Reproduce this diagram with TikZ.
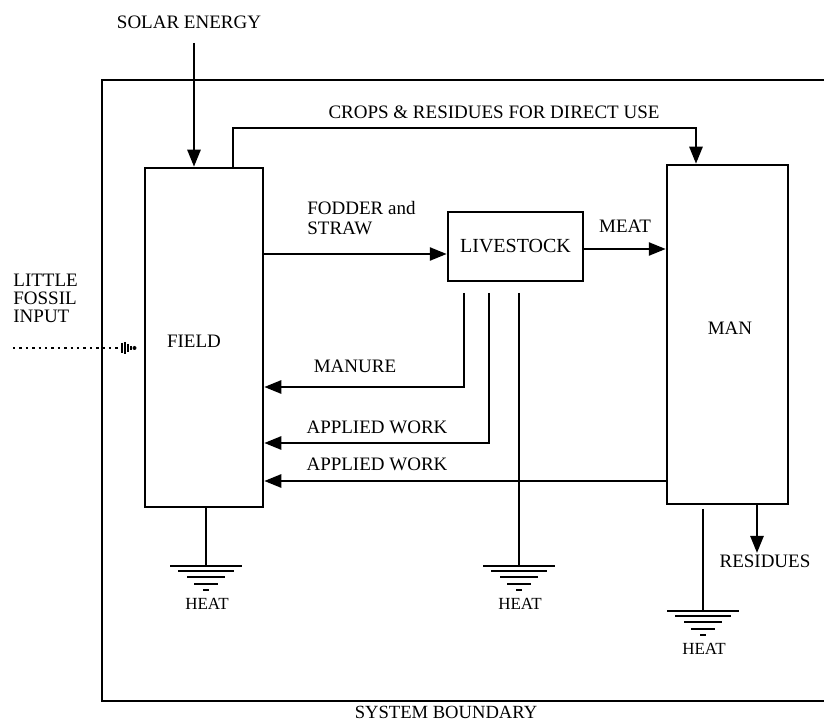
\documentclass[tikz,border=0pt]{standalone}
\usepackage{fontspec}
\setmainfont{Liberation Serif}
\usetikzlibrary{arrows.meta}

\tikzset{
  box/.style = {draw, line width=1.25pt, inner sep=0pt},
  lab/.style = {font=\fontsize{9.5}{10}\selectfont, inner sep=0pt},
  small/.style = {font=\fontsize{8.5}{10}\selectfont, inner sep=0pt},
  arr/.style = {line width=1.25pt, -{Triangle[length=8.5pt,width=6.5pt]}},
  ln/.style = {line width=1.25pt},
  ground/.pic = {
    \draw[ln] (-36,0) -- (36,0);
    \draw[ln] (-28,5) -- (28,5);
    \draw[ln] (-19,11) -- (19,11);
    \draw[ln] (-12,18) -- (12,18);
    \draw[ln] (-3,24) -- (3,24);
    \node[small] (-heat) at (1,38) {HEAT};
  }
}

\begin{document}
\begin{tikzpicture}[x=0.5pt, y=-0.5pt]
\useasboundingbox (0,0) rectangle (827,722);

\draw[line width=1.4pt] (824,80) -- (102,80) -- (102,701) -- (824,701);
\node[small, font=\fontsize{9.3}{10}\selectfont] (bound) at (446,712) {SYSTEM BOUNDARY};

\node[box, minimum width=59pt, minimum height=169.5pt] (field) at (204,337.5) {};
\node[lab] (fieldlab) at (194,341) {FIELD};
\node[box, minimum width=60.5pt, minimum height=169.5pt] (man) at (727.5,334.5) {};
\node[lab] (manlab) at (730,328) {MAN};
\node[box, minimum width=67.5pt, minimum height=34.5pt] (stock) at (515.5,246.5) {LIVESTOCK};

\node[lab] (solar) at (189,22) {SOLAR ENERGY};
\draw (194,43) coordinate (s_1);
\draw[arr] (s_1) -- (s_1 |- field.north);

\draw (233,128) coordinate (c_1);
\draw (696,128) coordinate (c_2);
\node[lab] (crops) at (494,112) {CROPS \& RESIDUES FOR DIRECT USE};
\draw[arr] (c_1 |- field.north) -- (c_1) -- (c_2) -- (c_2 |- man.north);

\draw (0,254) coordinate (f_1);
\node[lab, anchor=west, align=left, font=\fontsize{9.5}{10}\selectfont] (fodder) at (307,218) {FODDER and\\STRAW};
\draw[arr] (field.east |- f_1) -- (stock.west |- f_1);

\draw (0,249) coordinate (f_2);
\node[lab] (meat) at (625,226) {MEAT};
\draw[arr] (stock.east |- f_2) -- (man.west |- f_2);

\draw (464,293) coordinate (m_1);
\draw (0,387) coordinate (m_2);
\node[lab] (manure) at (355,366) {MANURE};
\draw[arr] (m_1) |- (field.east |- m_2);

\draw (489,293) coordinate (w_1);
\draw (0,443) coordinate (w_2);
\node[lab] (work1) at (377,427) {APPLIED WORK};
\draw[arr] (w_1) |- (field.east |- w_2);

\draw (0,481) coordinate (w_3);
\node[lab] (work2) at (377,464) {APPLIED WORK};
\draw[arr] (man.west |- w_3) -- (field.east |- w_3);

\draw (206,566) coordinate (h_1);
\draw[ln] (field.south -| h_1) -- (h_1);
\pic (g1) at (h_1) {ground};

\draw (519,293) coordinate (h_2a);
\draw (519,566) coordinate (h_2);
\draw[ln] (h_2a) -- (h_2);
\pic (g2) at (h_2) {ground};

\draw (703,509) coordinate (h_3a);
\draw (703,611) coordinate (h_3);
\draw[ln] (h_3a) -- (h_3);
\pic (g3) at (h_3) {ground};

\draw (757,553) coordinate (r_1);
\draw[arr] (man.south -| r_1) -- (r_1);
\node[lab] (resid) at (765,561) {RESIDUES};

\node[lab, anchor=west, align=left, font=\fontsize{9.5}{9}\selectfont] (fossil) at (13,298) {LITTLE\\FOSSIL\\INPUT};
\draw (13,348) coordinate (p_1);
\draw (119,348) coordinate (p_2);
\draw[line width=1.2pt, dotted] (p_1) -- (p_2);
\draw[ln] (122,343) -- (122,353);
\draw[ln] (125,342) -- (125,354);
\draw[ln] (128,344) -- (128,352);
\draw[ln] (131,346) -- (131,350);
\fill (134.5,348) circle (1pt);

\end{tikzpicture}
\end{document}
